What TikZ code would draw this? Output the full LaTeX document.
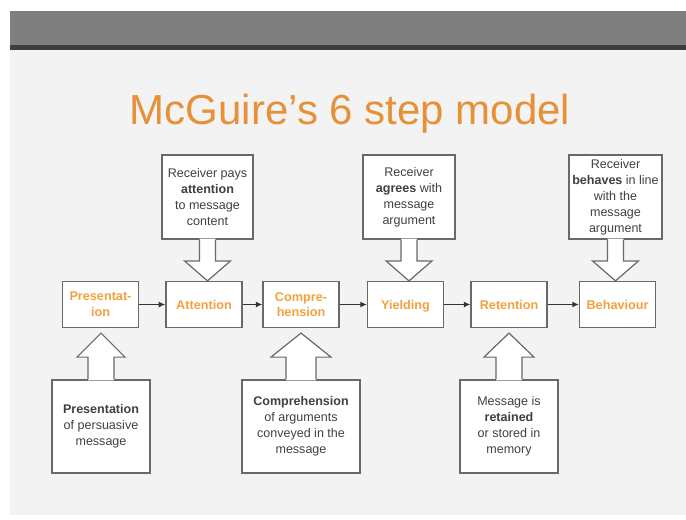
\documentclass[tikz,border=0pt]{standalone}
\usepackage{fontspec}
\setmainfont{Liberation Sans}
\usetikzlibrary{arrows.meta, positioning, calc}
\definecolor{titleorange}{RGB}{230,145,56}
\definecolor{steporange}{RGB}{242,162,62}
\definecolor{slidegray}{RGB}{243,243,243}
\definecolor{bargray}{RGB}{127,127,127}
\definecolor{bardark}{RGB}{62,62,62}
\definecolor{edgegray}{RGB}{105,105,105}

\begin{document}
\begin{tikzpicture}[
    x=0.75pt, y=-0.75pt,
    stepbox/.style={rectangle, draw=edgegray, fill=white, line width=0.9pt, minimum width=57pt, minimum height=34.5pt, align=center, inner sep=1pt, font=\fontsize{9.5}{11.8}\selectfont\bfseries, text=steporange},
    note/.style={rectangle, draw=edgegray, fill=white, line width=0.9pt, align=center, inner sep=1pt, font=\fontsize{9.4}{12}\selectfont, text=black!75},
    pointer/.style={draw=edgegray, line width=0.9pt, line join=miter},
    link/.style={-{Latex[length=5pt, width=4.5pt]}, line width=1pt, black!80}
]

% slide background
\useasboundingbox (0,0) rectangle (686,519);
\fill[white] (0,0) rectangle (686,519);
\fill[slidegray] (10,11) rectangle (686,515);
\fill[bargray] (10,11) rectangle (686,45);
\fill[bardark] (10,45) rectangle (686,50);

\node[font=\fontsize{31.5}{36}\selectfont, text=titleorange, anchor=base] (title) at (350,124) {McGuire's 6 step model};

% the six steps
\node[stepbox] (pres) at (100.5,304.5) {Presentat-\\ion};
\node[stepbox, right=19.7pt of pres] (att) {Attention};
\node[stepbox, right=14.9pt of att] (comp) {Compre-\\hension};
\node[stepbox, right=20.5pt of comp, text depth=0pt] (yield) {Yielding};
\node[stepbox, right=19.7pt of yield] (ret) {Retention};
\node[stepbox, right=23.5pt of ret] (beh) {Behaviour};

\draw[link] (pres) -- (att);
\draw[link] (att) -- (comp);
\draw[link] (comp) -- (yield);
\draw[link] (yield) -- (ret);
\draw[link] (ret) -- (beh);

% notes above
\node[note, minimum width=68.25pt, minimum height=63pt] (attnote) at (207.5,197) {Receiver pays\\\textbf{attention}\\to message\\content};
\node[note, minimum width=69pt, minimum height=63pt] (yieldnote) at (409,197) {Receiver\\\textbf{agrees} with\\message\\argument};
\node[note, minimum width=69.75pt, minimum height=63pt] (behnote) at (615.5,197) {Receiver\\\textbf{behaves} in line\\with the\\message\\argument};

% notes below
\node[note, minimum width=73.5pt, minimum height=69.75pt] (presnote) at (101,426.5) {\textbf{Presentation}\\of persuasive\\message};
\node[note, minimum width=88.5pt, minimum height=69.75pt] (compnote) at (301,426.5) {\textbf{Comprehension}\\of arguments\\conveyed in the\\message};
\node[note, minimum width=73.5pt, minimum height=69.75pt] (retnote) at (509,426.5) {Message is\\\textbf{retained}\\or stored in\\memory};

% block arrows from the notes
\foreach \n/\t in {attnote/att, yieldnote/yield, behnote/beh}{
  \coordinate (\n-tip) at (\n.south |- \t.north);
  \fill[white] ($(\n.south)+(-8,-1)$) -- ($(\n-tip)+(-8,-20)$) -- ($(\n-tip)+(-23,-20)$) -- (\n-tip) -- ($(\n-tip)+(23,-20)$) -- ($(\n-tip)+(8,-20)$) -- ($(\n.south)+(8,-1)$) -- cycle;
  \draw[pointer] ($(\n.south)+(-8,0)$) -- ($(\n-tip)+(-8,-20)$) -- ($(\n-tip)+(-23,-20)$) -- (\n-tip) -- ($(\n-tip)+(23,-20)$) -- ($(\n-tip)+(8,-20)$) -- ($(\n.south)+(8,0)$);
}
\foreach \n/\t/\s/\h in {presnote/pres/13/24, compnote/comp/15/30, retnote/ret/13/25}{
  \coordinate (\n-tip) at ($(\n.north |- \t.south)+(0,5)$);
  \fill[white] ($(\n.north)+(-\s,1)$) -- ($(\n-tip)+(-\s,24)$) -- ($(\n-tip)+(-\h,24)$) -- (\n-tip) -- ($(\n-tip)+(\h,24)$) -- ($(\n-tip)+(\s,24)$) -- ($(\n.north)+(\s,1)$) -- cycle;
  \draw[pointer] ($(\n.north)+(-\s,0)$) -- ($(\n-tip)+(-\s,24)$) -- ($(\n-tip)+(-\h,24)$) -- (\n-tip) -- ($(\n-tip)+(\h,24)$) -- ($(\n-tip)+(\s,24)$) -- ($(\n.north)+(\s,0)$);
}

\end{tikzpicture}
\end{document}
